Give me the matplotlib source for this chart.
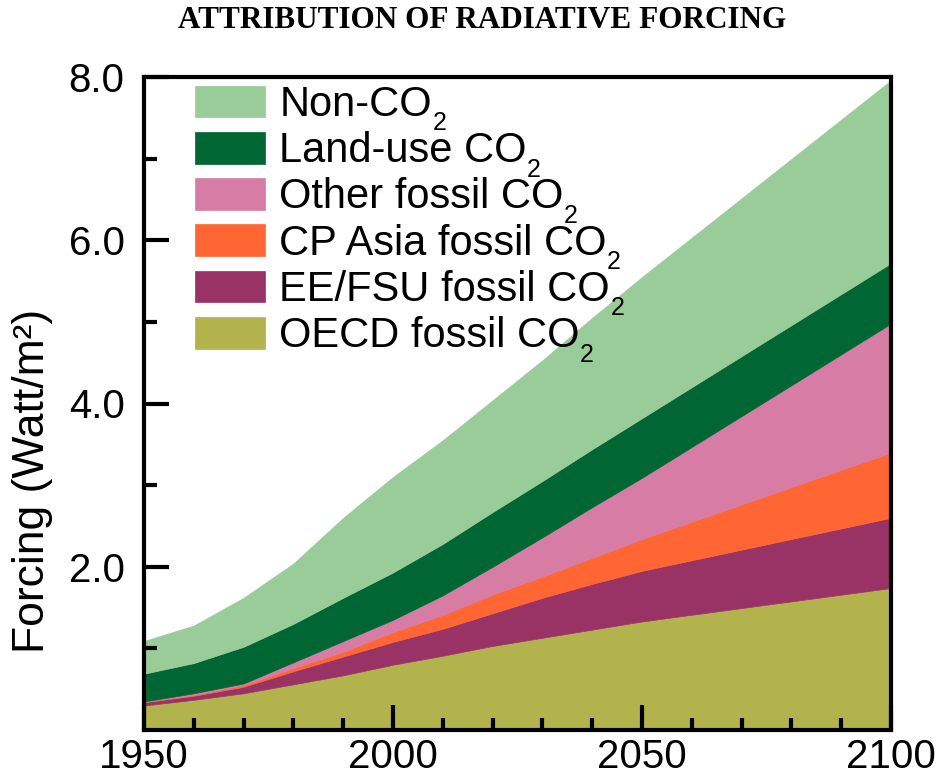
import matplotlib
matplotlib.use("Agg")
import matplotlib.pyplot as plt
from matplotlib.ticker import FixedLocator, FormatStrFormatter

plt.rcParams['font.family'] = ['Liberation Sans', 'DejaVu Sans']

# Radiative forcing contributions (W/m^2), stacked from the bottom up
years = [1950, 1960, 1970, 1980, 1990, 2000, 2010, 2020, 2030, 2040, 2050, 2100]
oecd_fossil = [0.30, 0.37, 0.45, 0.56, 0.67, 0.80, 0.91, 1.03, 1.13, 1.23, 1.33, 1.74]
eefsu_fossil = [0.04, 0.05, 0.08, 0.16, 0.23, 0.28, 0.33, 0.40, 0.49, 0.56, 0.62, 0.86]
cpasia_fossil = [0.005, 0.01, 0.02, 0.04, 0.06, 0.12, 0.17, 0.23, 0.26, 0.32, 0.39, 0.80]
other_fossil = [0.005, 0.02, 0.02, 0.07, 0.13, 0.15, 0.24, 0.34, 0.48, 0.62, 0.75, 1.58]
land_use = [0.34, 0.37, 0.45, 0.47, 0.53, 0.58, 0.63, 0.67, 0.69, 0.71, 0.73, 0.74]
non_co2 = [0.40, 0.46, 0.60, 0.74, 0.98, 1.17, 1.27, 1.37, 1.48, 1.61, 1.73, 2.24]

series_labels = ["OECD fossil CO", "EE/FSU fossil CO", "CP Asia fossil CO",
                 "Other fossil CO", "Land-use CO", "Non-CO"]
series_colors = ["#B3B34D", "#993366", "#FF6633", "#D77DA5", "#006633", "#99CC99"]

x_major = [1950, 2000, 2050, 2100]
x_minor = [1960, 1970, 1980, 1990, 2010, 2020, 2030, 2040, 2060, 2070, 2080, 2090]
y_major = [2, 4, 6, 8]
y_minor = [1, 3, 5, 7]

W, H = 941, 779
fig = plt.figure(figsize=(W / 100, H / 100), dpi=100)
ax = fig.add_axes([144 / W, 1 - 730 / H, 747 / W, 653 / H])

polys = ax.stackplot(years, oecd_fossil, eefsu_fossil, cpasia_fossil,
                     other_fossil, land_use, non_co2,
                     colors=series_colors, labels=series_labels)
for p, c in zip(polys, series_colors):
    p.set_edgecolor(c)
    p.set_linewidth(0.5)

ax.set_xlim(1950, 2100)
ax.set_ylim(0, 8)
ax.xaxis.set_major_locator(FixedLocator(x_major))
ax.xaxis.set_minor_locator(FixedLocator(x_minor))
ax.yaxis.set_major_locator(FixedLocator(y_major))
ax.yaxis.set_minor_locator(FixedLocator(y_minor))
ax.yaxis.set_major_formatter(FormatStrFormatter('%.1f'))

for s in ax.spines.values():
    s.set_linewidth(3)
    s.set_color('black')

ax.tick_params(which='both', direction='in', width=3, color='black',
               top=False, right=False)
ax.tick_params(which='major', length=18, labelsize=29)
ax.tick_params(axis='x', which='major', pad=6)
ax.tick_params(axis='y', which='major', pad=14)
ax.tick_params(which='minor', length=9)

ax.set_ylabel("Forcing (Watt/m\u00b2)", fontsize=32)
ax.yaxis.set_label_coords(-0.122, 0.381)

handles = polys[::-1]
leg = ax.legend(handles, [h.get_label() for h in handles],
                loc='upper left', bbox_to_anchor=(195 / W, 1 - 85 / H),
                bbox_transform=fig.transFigure, frameon=False, fontsize=30,
                borderpad=0, borderaxespad=0, handlelength=1.68,
                handleheight=0.79, handletextpad=0.34, labelspacing=0.15)

fig.text(482 / W, 1 - 20 / H, "ATTRIBUTION OF RADIATIVE FORCING",
         family='Liberation Serif', weight='bold', fontsize=22.5,
         ha='center', va='center')

# Chemical subscripts appended after each legend entry
fig.canvas.draw()
renderer = fig.canvas.get_renderer()
for t in leg.get_texts():
    bb = t.get_window_extent(renderer)
    fig.text((bb.x1 + 0.5) / W, (bb.y0 - 5.5) / H, "2", fontsize=18,
             ha='left', va='baseline')

fig.savefig("out.png", dpi=100)
